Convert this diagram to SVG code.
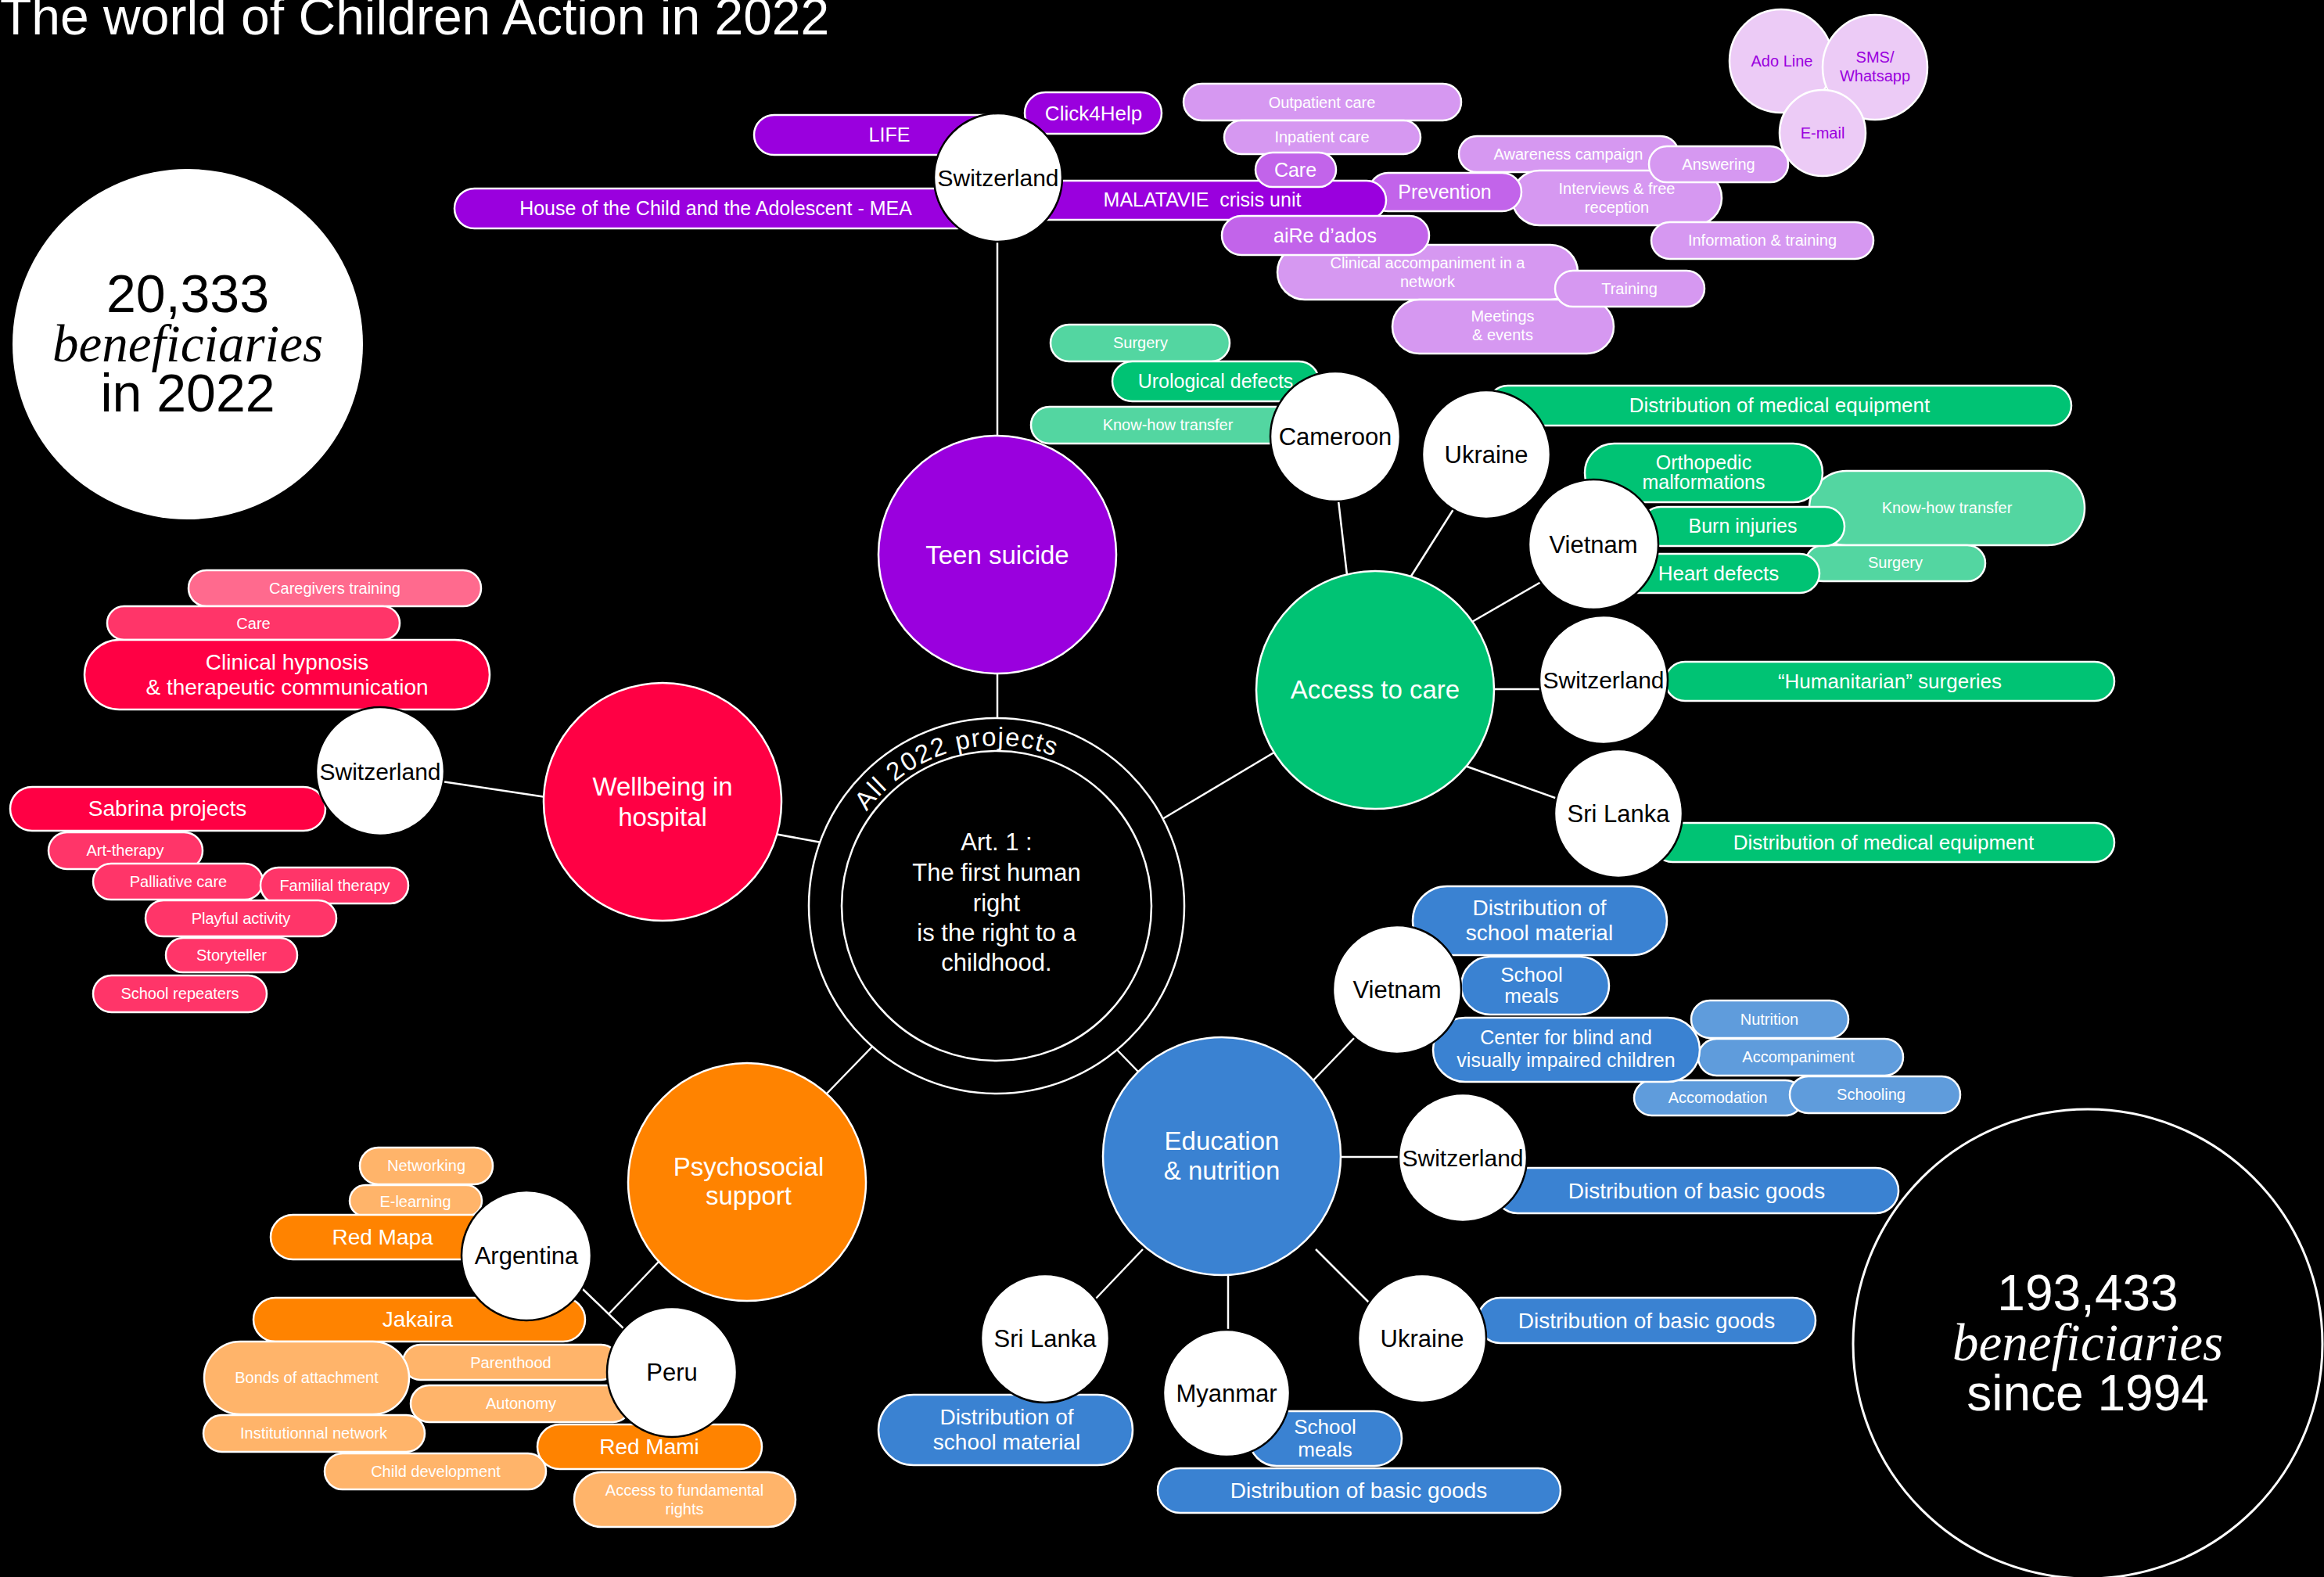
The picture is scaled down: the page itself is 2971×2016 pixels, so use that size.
<svg xmlns="http://www.w3.org/2000/svg" width="2971" height="2016" viewBox="0 0 2971 2016">
<defs>
<style>
text{font-family:"Liberation Sans",Arial,Helvetica,sans-serif}
.pl{stroke:#fff;stroke-width:2.5}
.cy{fill:#fff;stroke:#000;stroke-width:2.5}
.ct{stroke:#fff;stroke-width:2.5}
.ln{stroke:#fff;stroke-width:2.5;fill:none}
.w{fill:#fff;text-anchor:middle}
.k{fill:#000;text-anchor:middle;font-size:31px}
.kc{font-size:30px}
.c{fill:#fff;text-anchor:middle;font-size:33px}
.s{font-size:20px}
.m{font-size:25px}
.n{font-size:26px}
.l{font-size:28px}
.p1{fill:#9A00DE}.p2{fill:#C264EA}.p3{fill:#D698F1}.p4{fill:#ECCBF6}
.g1{fill:#00C374}.g2{fill:#53D6A1}
.r1{fill:#FF0044}.r2{fill:#FF3569}.r3{fill:#FF6A8E}
.o1{fill:#FF8300}.o2{fill:#FFB46A}
.b1{fill:#3A82D2}.b2{fill:#5F9CDC}
.pt{fill:#9A00DE;text-anchor:middle;font-size:20px}
.big{text-anchor:middle;font-size:68px}
.big2{text-anchor:middle;font-size:64px}
.it{font-family:"Liberation Serif","Times New Roman",serif;font-style:italic;font-size:67px}
</style>
<path id="arc" d="M1108.2 1037.5 A205 205 0 0 1 1466.6 1087.9" fill="none"/>
</defs>
<rect width="2971" height="2016" fill="#000"/>

<text id="title" x="0" y="44" fill="#fff" font-size="66">The world of Children Action in 2022</text>

<g id="stat-2022">
<circle cx="240" cy="440" r="224" fill="#fff"/>
<text class="big" fill="#000" x="240" y="399">20,333</text>
<text class="big it" fill="#000" x="240" y="462">beneficiaries</text>
<text class="big" fill="#000" x="240" y="526">in 2022</text>
</g>

<g id="stat-1994">
<circle cx="2669" cy="1718" r="300" fill="#000" stroke="#fff" stroke-width="3"/>
<text class="big2" fill="#fff" x="2669" y="1675">193,433</text>
<text class="big2 it" fill="#fff" x="2669" y="1739">beneficiaries</text>
<text class="big2" fill="#fff" x="2669" y="1803">since 1994</text>
</g>

<g id="connectors" class="ln">
<path d="M1275 305V560"/>
<path d="M1275 858V920"/>
<path d="M1711 640L1722 735"/>
<path d="M1860 648L1803 738"/>
<path d="M1970 744L1880 796"/>
<path d="M1905 881H1972"/>
<path d="M1870 978L1991 1021"/>
<path d="M1486 1047L1632 960"/>
<path d="M565 999L698 1019"/>
<path d="M990 1066L1050 1077"/>
<path d="M1425 1339L1458 1373"/>
<path d="M1676 1384L1734 1324"/>
<path d="M1710 1479H1792"/>
<path d="M1461 1597L1400 1661"/>
<path d="M1570 1626V1702"/>
<path d="M1682 1597L1751 1666"/>
<path d="M1118 1335L1054 1401"/>
<path d="M744 1647L800 1701"/>
<path d="M842 1613L778 1680"/>
</g>

<g id="center">
<circle cx="1274" cy="1158" r="240" fill="#000" class="ct"/>
<circle cx="1274" cy="1158" r="198" fill="none" class="ct"/>
<text fill="#fff" font-size="33" letter-spacing="1.5"><textPath href="#arc">All 2022 projects</textPath></text>
<text class="w" font-size="31" x="1274" y="1087">Art. 1 :</text>
<text class="w" font-size="31" x="1274" y="1126">The first human</text>
<text class="w" font-size="31" x="1274" y="1165">right</text>
<text class="w" font-size="31" x="1274" y="1203">is the right to a</text>
<text class="w" font-size="31" x="1274" y="1241">childhood.</text>
</g>

<!-- Teen suicide cluster -->
<g id="ts-life"><rect class="pl p1" x="964" y="147" width="346" height="51" rx="25.5"/><text class="w m" x="1137" y="181">LIFE</text></g>
<g id="ts-mea"><rect class="pl p1" x="581" y="241" width="668" height="51" rx="25.5"/><text class="w m" x="915" y="275">House of the Child and the Adolescent - MEA</text></g>
<g id="ts-click4help"><rect class="pl p1" x="1310" y="118" width="175" height="53" rx="26.5"/><text class="w n" x="1398" y="154">Click4Help</text></g>
<g id="ts-outpatient"><rect class="pl p3" x="1513" y="107" width="355" height="47" rx="23.5"/><text class="w s" x="1690" y="138">Outpatient care</text></g>
<g id="ts-inpatient"><rect class="pl p3" x="1565" y="154" width="251" height="43" rx="21.5"/><text class="w s" x="1690" y="182">Inpatient care</text></g>
<g id="ts-awareness"><rect class="pl p3" x="1865" y="174" width="281" height="46" rx="23"/><text class="w s" x="2005" y="204">Awareness campaign</text></g>
<g id="ts-interviews"><rect class="pl p3" x="1933" y="218" width="268" height="70" rx="35"/><text class="w s" x="2067" y="248">Interviews &amp; free</text><text class="w s" x="2067" y="272">reception</text></g>
<g id="ts-answering"><rect class="pl p3" x="2108" y="187" width="178" height="46" rx="23"/><text class="w s" x="2197" y="217">Answering</text></g>
<g id="ts-information"><rect class="pl p3" x="2111" y="284" width="284" height="47" rx="23.5"/><text class="w s" x="2253" y="314">Information &amp; training</text></g>
<g id="ts-prevention"><rect class="pl p2" x="1750" y="221" width="195" height="49" rx="24.5"/><text class="w m" x="1847" y="254">Prevention</text></g>
<g id="ts-malatavie"><rect class="pl p1" x="1302" y="231" width="470" height="50" rx="25"/><text class="w m" x="1537" y="264">MALATAVIE&#160; crisis unit</text></g>
<g id="ts-care"><rect class="pl p2" x="1605" y="195" width="103" height="44" rx="22"/><text class="w m" x="1656" y="226">Care</text></g>
<g id="ts-clinical"><rect class="pl p3" x="1633" y="313" width="384" height="70" rx="35"/><text class="w s" x="1825" y="343">Clinical accompaniment in a</text><text class="w s" x="1825" y="367">network</text></g>
<g id="ts-aire"><rect class="pl p2" x="1562" y="276" width="265" height="50" rx="25"/><text class="w m" x="1694" y="310">aiRe d’ados</text></g>
<g id="ts-meetings"><rect class="pl p3" x="1780" y="383" width="283" height="69" rx="34.5"/><text class="w s" x="1921" y="411">Meetings</text><text class="w s" x="1921" y="435">&amp; events</text></g>
<g id="ts-training"><rect class="pl p3" x="1988" y="346" width="191" height="46" rx="23"/><text class="w s" x="2083" y="376">Training</text></g>
<g id="ts-adoline"><circle class="pl p4" cx="2277" cy="78" r="66"/><text class="pt" x="2278" y="85">Ado Line</text></g>
<g id="ts-sms"><circle class="pl p4" cx="2397" cy="86" r="67"/><text class="pt" x="2397" y="80">SMS/</text><text class="pt" x="2397" y="104">Whatsapp</text></g>
<g id="ts-email"><circle class="pl p4" cx="2330" cy="170" r="55"/><text class="pt" x="2330" y="177">E-mail</text></g>
<g id="ts-switzerland"><circle class="cy" cx="1276" cy="227" r="82"/><text class="k kc" x="1276" y="238">Switzerland</text></g>
<g id="teen-suicide"><circle class="ct p1" cx="1275" cy="709" r="152"/><text class="c" x="1275" y="721">Teen suicide</text></g>

<!-- Access to care cluster -->
<g id="ac-surgery1"><rect class="pl g2" x="1343" y="415" width="229" height="47" rx="23.5"/><text class="w s" x="1458" y="445">Surgery</text></g>
<g id="ac-urological"><rect class="pl g1" x="1422" y="462" width="264" height="51" rx="25.5"/><text class="w m" x="1554" y="496">Urological defects</text></g>
<g id="ac-knowhow1"><rect class="pl g2" x="1318" y="520" width="350" height="47" rx="23.5"/><text class="w s" x="1493" y="550">Know-how transfer</text></g>
<g id="ac-ua-equipment"><rect class="pl g1" x="1902" y="493" width="746" height="51" rx="25.5"/><text class="w n" x="2275" y="527">Distribution of medical equipment</text></g>
<g id="ac-knowhow2"><rect class="pl g2" x="2313" y="602" width="352" height="95" rx="47.5"/><text class="w s" x="2489" y="656">Know-how transfer</text></g>
<g id="ac-surgery2"><rect class="pl g2" x="2308" y="697" width="230" height="46" rx="23"/><text class="w s" x="2423" y="726">Surgery</text></g>
<g id="ac-orthopedic"><rect class="pl g1" x="2026" y="567" width="304" height="75" rx="37.5"/><text class="w m" x="2178" y="600">Orthopedic</text><text class="w m" x="2178" y="625">malformations</text></g>
<g id="ac-burn"><rect class="pl g1" x="2098" y="648" width="260" height="50" rx="25"/><text class="w m" x="2228" y="681">Burn injuries</text></g>
<g id="ac-heart"><rect class="pl g1" x="2068" y="708" width="258" height="50" rx="25"/><text class="w n" x="2197" y="742">Heart defects</text></g>
<g id="ac-humanitarian"><rect class="pl g1" x="2129" y="846" width="574" height="50" rx="25"/><text class="w n" x="2416" y="880">“Humanitarian” surgeries</text></g>
<g id="ac-lk-equipment"><rect class="pl g1" x="2113" y="1052" width="590" height="50" rx="25"/><text class="w n" x="2408" y="1086">Distribution of medical equipment</text></g>
<g id="ac-cameroon"><circle class="cy" cx="1707" cy="558" r="83"/><text class="k" x="1707" y="569">Cameroon</text></g>
<g id="ac-ukraine"><circle class="cy" cx="1900" cy="581" r="82"/><text class="k" x="1900" y="592">Ukraine</text></g>
<g id="ac-vietnam"><circle class="cy" cx="2037" cy="696" r="83"/><text class="k" x="2037" y="707">Vietnam</text></g>
<g id="ac-switzerland"><circle class="cy" cx="2050" cy="869" r="82"/><text class="k kc" x="2050" y="880">Switzerland</text></g>
<g id="ac-srilanka"><circle class="cy" cx="2069" cy="1040" r="82"/><text class="k" x="2069" y="1051">Sri Lanka</text></g>
<g id="access-to-care"><circle class="ct g1" cx="1758" cy="882" r="152"/><text class="c" x="1758" y="893">Access to care</text></g>

<!-- Wellbeing in hospital cluster -->
<g id="wb-caregivers"><rect class="pl r3" x="241" y="729" width="374" height="46" rx="23"/><text class="w s" x="428" y="759">Caregivers training</text></g>
<g id="wb-care"><rect class="pl r2" x="137" y="775" width="374" height="43" rx="21.5"/><text class="w s" x="324" y="804">Care</text></g>
<g id="wb-hypnosis"><rect class="pl r1" x="108" y="818" width="518" height="89" rx="44.5"/><text class="w l" x="367" y="856">Clinical hypnosis</text><text class="w l" x="367" y="888">&amp; therapeutic communication</text></g>
<g id="wb-sabrina"><rect class="pl r1" x="13" y="1006" width="403" height="56" rx="28"/><text class="w l" x="214" y="1043">Sabrina projects</text></g>
<g id="wb-art"><rect class="pl r2" x="62" y="1064" width="197" height="47" rx="23.5"/><text class="w s" x="160" y="1094">Art-therapy</text></g>
<g id="wb-palliative"><rect class="pl r2" x="119" y="1104" width="217" height="46" rx="23"/><text class="w s" x="228" y="1134">Palliative care</text></g>
<g id="wb-familial"><rect class="pl r2" x="333" y="1109" width="189" height="46" rx="23"/><text class="w s" x="428" y="1139">Familial therapy</text></g>
<g id="wb-playful"><rect class="pl r2" x="186" y="1151" width="244" height="46" rx="23"/><text class="w s" x="308" y="1181">Playful activity</text></g>
<g id="wb-storyteller"><rect class="pl r2" x="212" y="1199" width="168" height="44" rx="22"/><text class="w s" x="296" y="1228">Storyteller</text></g>
<g id="wb-repeaters"><rect class="pl r2" x="119" y="1247" width="222" height="47" rx="23.5"/><text class="w s" x="230" y="1277">School repeaters</text></g>
<g id="wb-switzerland"><circle class="cy" cx="486" cy="986" r="82"/><text class="k kc" x="486" y="997">Switzerland</text></g>
<g id="wellbeing"><circle class="ct r1" cx="847" cy="1025" r="152"/><text class="c" x="847" y="1017">Wellbeing in</text><text class="c" x="847" y="1056">hospital</text></g>

<!-- Education & nutrition cluster -->
<g id="ed-vn-material"><rect class="pl b1" x="1806" y="1133" width="325" height="88" rx="44"/><text class="w l" x="1968" y="1170">Distribution of</text><text class="w l" x="1968" y="1202">school material</text></g>
<g id="ed-vn-meals"><rect class="pl b1" x="1868" y="1223" width="189" height="74" rx="37"/><text class="w n" x="1958" y="1255">School</text><text class="w n" x="1958" y="1282">meals</text></g>
<g id="ed-nutrition"><rect class="pl b2" x="2162" y="1279" width="201" height="48" rx="24"/><text class="w s" x="2262" y="1310">Nutrition</text></g>
<g id="ed-accompaniment"><rect class="pl b2" x="2171" y="1328" width="262" height="47" rx="23.5"/><text class="w s" x="2299" y="1358">Accompaniment</text></g>
<g id="ed-accomodation"><rect class="pl b2" x="2089" y="1381" width="216" height="45" rx="22.5"/><text class="w s" x="2196" y="1410">Accomodation</text></g>
<g id="ed-schooling"><rect class="pl b2" x="2288" y="1376" width="218" height="47" rx="23.5"/><text class="w s" x="2392" y="1406">Schooling</text></g>
<g id="ed-blind"><rect class="pl b1" x="1832" y="1301" width="341" height="82" rx="41"/><text class="w m" x="2002" y="1335">Center for blind and</text><text class="w m" x="2002" y="1364">visually impaired children</text></g>
<g id="ed-ch-goods"><rect class="pl b1" x="1911" y="1493" width="516" height="58" rx="29"/><text class="w l" x="2169" y="1532">Distribution of basic goods</text></g>
<g id="ed-ua-goods"><rect class="pl b1" x="1889" y="1659" width="432" height="58" rx="29"/><text class="w l" x="2105" y="1698">Distribution of basic goods</text></g>
<g id="ed-lk-material"><rect class="pl b1" x="1123" y="1783" width="325" height="90" rx="45"/><text class="w l" x="1287" y="1821">Distribution of</text><text class="w l" x="1287" y="1853">school material</text></g>
<g id="ed-mm-meals"><rect class="pl b1" x="1597" y="1804" width="195" height="70" rx="35"/><text class="w n" x="1694" y="1833">School</text><text class="w n" x="1694" y="1862">meals</text></g>
<g id="ed-mm-goods"><rect class="pl b1" x="1480" y="1877" width="515" height="57" rx="28.5"/><text class="w l" x="1737" y="1915">Distribution of basic goods</text></g>
<g id="ed-vietnam"><circle class="cy" cx="1786" cy="1265" r="82"/><text class="k" x="1786" y="1276">Vietnam</text></g>
<g id="ed-switzerland"><circle class="cy" cx="1870" cy="1480" r="82"/><text class="k kc" x="1870" y="1491">Switzerland</text></g>
<g id="ed-srilanka"><circle class="cy" cx="1336" cy="1711" r="82"/><text class="k" x="1336" y="1722">Sri Lanka</text></g>
<g id="ed-myanmar"><circle class="cy" cx="1568" cy="1781" r="81"/><text class="k" x="1568" y="1792">Myanmar</text></g>
<g id="ed-ukraine"><circle class="cy" cx="1818" cy="1711" r="82"/><text class="k" x="1818" y="1722">Ukraine</text></g>
<g id="education"><circle class="ct b1" cx="1562" cy="1478" r="152"/><text class="c" x="1562" y="1470">Education</text><text class="c" x="1562" y="1508">&amp; nutrition</text></g>

<!-- Psychosocial support cluster -->
<g id="ps-networking"><rect class="pl o2" x="460" y="1467" width="170" height="47" rx="23.5"/><text class="w s" x="545" y="1497">Networking</text></g>
<g id="ps-elearning"><rect class="pl o2" x="447" y="1515" width="169" height="40" rx="20"/><text class="w s" x="531" y="1543">E-learning</text></g>
<g id="ps-redmapa"><rect class="pl o1" x="346" y="1553" width="286" height="57" rx="28.5"/><text class="w l" x="489" y="1591">Red Mapa</text></g>
<g id="ps-jakaira"><rect class="pl o1" x="324" y="1659" width="424" height="56" rx="28"/><text class="w l" x="534" y="1696">Jakaira</text></g>
<g id="ps-parenthood"><rect class="pl o2" x="515" y="1719" width="276" height="45" rx="22.5"/><text class="w s" x="653" y="1749">Parenthood</text></g>
<g id="ps-autonomy"><rect class="pl o2" x="525" y="1771" width="282" height="47" rx="23.5"/><text class="w s" x="666" y="1801">Autonomy</text></g>
<g id="ps-bonds"><rect class="pl o2" x="261" y="1715" width="262" height="93" rx="46.5"/><text class="w s" x="392" y="1768">Bonds of attachment</text></g>
<g id="ps-institutional"><rect class="pl o2" x="260" y="1809" width="283" height="47" rx="23.5"/><text class="w s" x="401" y="1839">Institutionnal network</text></g>
<g id="ps-redmami"><rect class="pl o1" x="687" y="1821" width="287" height="57" rx="28.5"/><text class="w l" x="830" y="1859">Red Mami</text></g>
<g id="ps-childdev"><rect class="pl o2" x="415" y="1858" width="283" height="46" rx="23"/><text class="w s" x="557" y="1888">Child development</text></g>
<g id="ps-rights"><rect class="pl o2" x="734" y="1882" width="283" height="70" rx="35"/><text class="w s" x="875" y="1912">Access to fundamental</text><text class="w s" x="875" y="1936">rights</text></g>
<g id="ps-argentina"><circle class="cy" cx="673" cy="1605" r="83"/><text class="k" x="673" y="1616">Argentina</text></g>
<g id="ps-peru"><circle class="cy" cx="859" cy="1754" r="83"/><text class="k" x="859" y="1765">Peru</text></g>
<g id="psychosocial"><circle class="ct o1" cx="955" cy="1511" r="152"/><text class="c" x="957" y="1503">Psychosocial</text><text class="c" x="957" y="1540">support</text></g>
</svg>
